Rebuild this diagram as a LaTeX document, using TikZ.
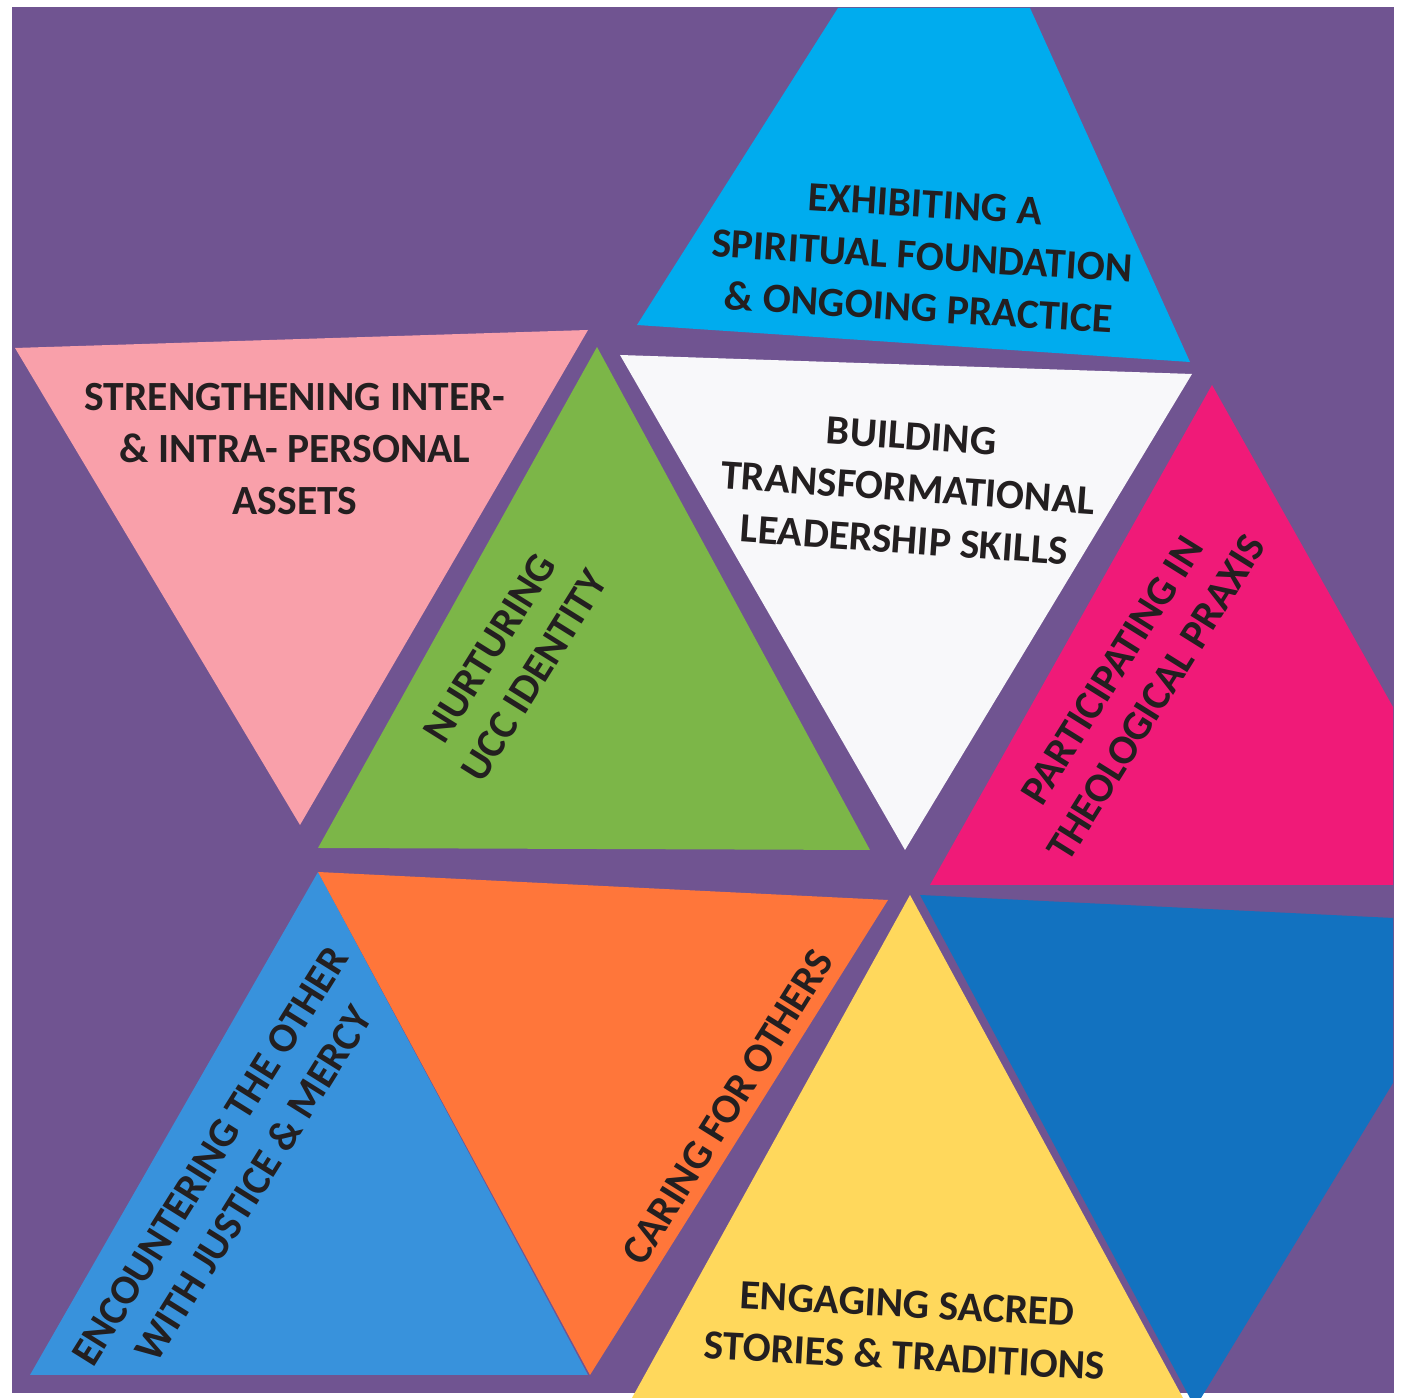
\documentclass[tikz,border=0pt]{standalone}
\usepackage{fontspec}
\newfontfamily\carl{Carlito}
\definecolor{bgpurple}{RGB}{112,84,145}
\definecolor{cyanT}{RGB}{0,172,238}
\definecolor{pinkT}{RGB}{249,160,170}
\definecolor{greenT}{RGB}{124,182,72}
\definecolor{whiteT}{RGB}{248,248,250}
\definecolor{magT}{RGB}{240,26,120}
\definecolor{blueT}{RGB}{56,146,220}
\definecolor{orangeT}{RGB}{255,118,58}
\definecolor{yellowT}{RGB}{255,216,92}
\definecolor{dblueT}{RGB}{18,114,192}
\definecolor{txt}{RGB}{35,31,32}
\begin{document}
\begin{tikzpicture}[x=0.01cm,y=-0.01cm,
  lab/.style={font=\carl\bfseries\fontsize{11.8}{14.8}\selectfont,text=txt,align=center,inner sep=0pt}]
\useasboundingbox (0,0) rectangle (1402,1398);
\fill[white] (0,0) rectangle (1402,1398);
\fill[bgpurple] (12,7) rectangle (1394,1393);
% triangles
\fill[cyanT] (637,325) -- (838,8) -- (1030,8) -- (1190,362) -- cycle;
\fill[pinkT] (15,348) -- (588,330) -- (300,825) -- cycle;
\fill[greenT] (597,347) -- (870,850) -- (318,848) -- cycle;
\fill[whiteT] (620,355) -- (1192,374) -- (905,850) -- cycle;
\fill[magT] (1212,385) -- (1393,707) -- (1393,885) -- (930,885) -- cycle;
\fill[blueT] (318,872) -- (588,1375) -- (30,1375) -- cycle;
\fill[orangeT] (318,872) -- (888,900) -- (590,1375) -- cycle;
\fill[yellowT] (910,895) -- (1183,1398) -- (632,1398) -- cycle;
\fill[dblueT] (920,895) -- (1393,918) -- (1393,1083) -- (1201,1398) -- (1190,1398) -- cycle;
% labels
\node[lab,rotate=-3.5] (exh) at (922,256) {EXHIBITING A\\SPIRITUAL FOUNDATION\\\& ONGOING PRACTICE};
\node[lab] (str) at (295,449) {STRENGTHENING INTER-\\\& INTRA- PERSONAL\\ASSETS};
\node[lab,rotate=-4] (bld) at (908,488) {BUILDING\\TRANSFORMATIONAL\\LEADERSHIP SKILLS};
\node[lab,rotate=58] (nur) at (512,662) {NURTURING\\UCC IDENTITY};
\node[lab,rotate=58] (par) at (1134,684) {PARTICIPATING IN\\THEOLOGICAL PRAXIS};
\node[lab,rotate=58] (enc) at (232,1170) {ENCOUNTERING THE OTHER\\WITH JUSTICE \& MERCY};
\node[lab,rotate=58] (car) at (728,1107) {CARING FOR OTHERS};
\node[lab,rotate=-3] (eng) at (906,1330) {ENGAGING SACRED\\STORIES \& TRADITIONS};
\end{tikzpicture}
\end{document}
